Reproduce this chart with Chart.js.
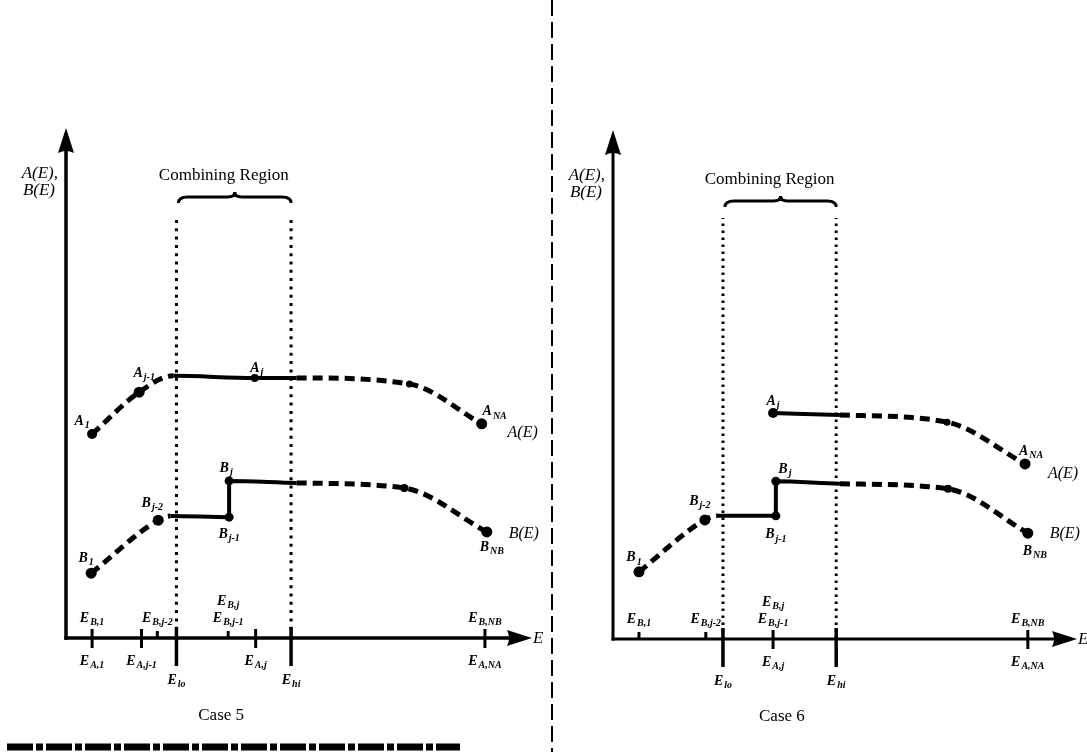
<!DOCTYPE html>
<html>
<head>
<meta charset="utf-8">
<title>Combining Region - Case 5 / Case 6</title>
<script src="https://cdn.jsdelivr.net/npm/chart.js@4.4.0/dist/chart.umd.min.js"></script>
<style>
  html, body { margin: 0; padding: 0; background: #fff; }
  #wrap { position: relative; width: 1087px; height: 756px; overflow: hidden; }
  .panel { position: absolute; top: 0; }
  #case5 { left: 0; }
  #case6 { left: 555px; }
</style>
</head>
<body>
<div id="wrap">
  <div class="panel" id="case5"><canvas id="chart5" width="555" height="756"></canvas></div>
  <div class="panel" id="case6"><canvas id="chart6" width="532" height="756"></canvas></div>
</div>
<script>
"use strict";

// ---------- Case 5 data (E on a 0-100 axis, A/B on a 0-100 axis) ----------
const c5EnergyA = [5.6, 15.7, 23.0, 40.5, 49.5, 73.7, 89.2];
const c5ValueA  = [40.0, 48.2, 51.4, 51.0, 51.0, 49.8, 42.0];
const c5SolidA  = [2, 3];          // segments (by start index) drawn solid
const c5LabelA  = ["A_1", "A_j-1", "", "A_j", "", "", "A_NA"];

const c5EnergyB = [5.4, 19.8, 22.4, 35.0, 35.0, 49.5, 72.6, 90.3];
const c5ValueB  = [12.7, 23.1, 23.9, 23.7, 30.8, 30.4, 29.4, 20.8];
const c5SolidB  = [2, 3, 4];
const c5LabelB  = ["B_1", "B_j-2", "", "B_j-1", "B_j", "", "", "B_NB"];

const c5TickE      = [5.6, 16.2, 19.6, 23.7, 34.8, 40.7, 48.3, 89.9];
const c5TickKind   = ["cross", "cross", "up", "long", "up", "cross", "long", "cross"];
const c5TickTop    = ["E_B,1", "", "E_B,j-2", "", "E_B,j|E_B,j-1", "", "", "E_B,NB"];
const c5TickBottom = ["E_A,1", "E_A,j-1", "", "E_lo", "", "E_A,j", "E_hi", "E_A,NA"];
const c5Region     = [23.7, 48.3];  // E_lo, E_hi

// ---------- Case 6 data ----------
const c6EnergyA = [34.5, 48.9, 72.0, 88.8];
const c6ValueA  = [44.4, 44.0, 42.6, 34.4];
const c6SolidA  = [0];
const c6LabelA  = ["A_j", "", "", "A_NA"];

const c6EnergyB = [5.6, 19.8, 22.4, 35.1, 35.1, 48.9, 72.2, 89.4];
const c6ValueB  = [13.2, 23.4, 24.2, 24.2, 31.0, 30.5, 29.5, 20.8];
const c6SolidB  = [2, 3, 4];
const c6LabelB  = ["B_1", "B_j-2", "", "B_j-1", "B_j", "", "", "B_NB"];

const c6TickE      = [5.6, 20.0, 23.7, 34.5, 48.1, 89.4];
const c6TickKind   = ["up", "up", "long", "cross", "long", "cross"];
const c6TickTop    = ["E_B,1", "E_B,j-2", "", "E_B,j|E_B,j-1", "", "E_B,NB"];
const c6TickBottom = ["", "", "E_lo", "E_A,j", "E_hi", "E_A,NA"];
const c6Region     = [23.7, 48.1];

// ---------- styling ----------
const INK = "#000";
const SERIF = '"Liberation Serif", "Times New Roman", serif';
const TICK_SHAPES = { cross: [9, 10, 3], up: [7, 0, 3], long: [11, 28, 3.5] };

const c5Radii   = { A: [5, 5.5, 0, 4, 0, 3.5, 5.5], B: [5.5, 5.5, 0, 4.5, 4.5, 0, 4, 5.5] };
const c6Radii   = { A: [5, 0, 3.5, 5.5], B: [5.5, 5.5, 0, 4.5, 4.5, 0, 4, 5.5] };
const c5Offsets = {
    A: [[-10, -14], [5, -20], null, [2, -11], null, null, [13, -13]],
    B: [[-5, -16], [-6, -18], null, [0, 16], [-3, -14], null, null, [5, 14]]
};
const c6Offsets = {
    A: [[0, -13], null, null, [6, -14]],
    B: [[-5, -15], [-5, -20], null, [0, 18], [9, -13], null, null, [7, 17]]
};

function drawSub(ctx, str, cx, cy, size) {
    const parts = str.split("_");
    const main = parts[0], sub = parts[1] || "";
    const mainFont = `bold italic ${size}px ${SERIF}`;
    const subFont = `bold italic ${Math.round(size * 0.68)}px ${SERIF}`;
    ctx.font = mainFont;
    const w1 = ctx.measureText(main).width;
    ctx.font = subFont;
    const w2 = sub ? ctx.measureText(sub).width + 1 : 0;
    const x0 = cx - (w1 + w2) / 2;
    const base = cy + size * 0.33;
    ctx.textAlign = "left";
    ctx.textBaseline = "alphabetic";
    ctx.font = mainFont;
    ctx.fillText(main, x0, base);
    if (sub) {
        ctx.font = subFont;
        ctx.fillText(sub, x0 + w1 + 1, base + size * 0.22);
    }
}

function curveDataset(energies, values, solid, radii, labels, offsets, name, nameOffset) {
    return {
        data: energies.map((e, i) => ({ x: e, y: values[i] })),
        borderColor: INK,
        backgroundColor: INK,
        borderWidth: 5,
        borderDash: [10, 6],
        pointRadius: radii,
        pointHoverRadius: radii,
        pointBorderWidth: 0,
        pointBackgroundColor: INK,
        cubicInterpolationMode: "monotone",
        segment: {
            borderDash: (ctx) => (solid.includes(ctx.p0DataIndex) ? [] : [10, 6]),
            borderWidth: (ctx) => (solid.includes(ctx.p0DataIndex) ? 4 : 5)
        },
        pointLabels: labels,
        labelOffsets: offsets,
        curveName: name,
        curveNameOffset: nameOffset
    };
}

function regionDataset(e, top, width, dash) {
    return {
        data: [{ x: e, y: 0 }, { x: e, y: top }],
        borderColor: INK,
        borderWidth: width,
        borderDash: dash,
        pointRadius: 0,
        tension: 0
    };
}

function makeSchematic(p) {
    return {
        id: "schematic",
        afterDraw(chart) {
            const { ctx, chartArea: area, scales: { x } } = chart;
            ctx.save();
            ctx.fillStyle = INK;
            ctx.strokeStyle = INK;
            ctx.lineCap = "butt";
            ctx.setLineDash([]);

            // axes with arrow heads
            ctx.lineWidth = p.axisWidth;
            ctx.beginPath();
            ctx.moveTo(area.left, area.bottom + p.axisWidth / 2);
            ctx.lineTo(area.left, area.top + 20);
            ctx.stroke();
            ctx.beginPath();
            ctx.moveTo(area.left, area.top);
            ctx.lineTo(area.left - 8, area.top + 25);
            ctx.quadraticCurveTo(area.left, area.top + 21, area.left + 8, area.top + 25);
            ctx.closePath();
            ctx.fill();

            ctx.beginPath();
            ctx.moveTo(area.left - p.axisWidth / 2, area.bottom);
            ctx.lineTo(area.right - 20, area.bottom);
            ctx.stroke();
            ctx.beginPath();
            ctx.moveTo(area.right, area.bottom);
            ctx.lineTo(area.right - 25, area.bottom - 8);
            ctx.quadraticCurveTo(area.right - 21, area.bottom, area.right - 25, area.bottom + 8);
            ctx.closePath();
            ctx.fill();

            ctx.font = `italic 17px ${SERIF}`;
            ctx.textAlign = "left";
            ctx.textBaseline = "middle";
            ctx.fillText("E", area.right + 1, area.bottom + 1);

            ctx.textAlign = "right";
            ctx.textBaseline = "alphabetic";
            ctx.font = `italic 17px ${SERIF}`;
            ctx.fillText("A(E),", area.left - 8, area.top + 50);
            ctx.fillText("B(E)", area.left - 11, area.top + 67);

            // ticks and their labels
            p.tickE.forEach((e, i) => {
                const px = x.getPixelForValue(e);
                const kind = p.tickKind[i];
                const [up, down, w] = TICK_SHAPES[kind];
                ctx.lineWidth = w;
                ctx.beginPath();
                ctx.moveTo(px, area.bottom - up);
                ctx.lineTo(px, area.bottom + down);
                ctx.stroke();
                if (p.tickTop[i]) {
                    const lines = p.tickTop[i].split("|");
                    lines.forEach((ln, k) => drawSub(ctx, ln, px, area.bottom - 21 - (lines.length - 1 - k) * 17, 14));
                }
                if (p.tickBottom[i]) {
                    drawSub(ctx, p.tickBottom[i], px, area.bottom + (kind === "long" ? 41 : 22), 14);
                }
            });

            // brace over the combining region
            const x1 = x.getPixelForValue(p.region[0]) + 2;
            const x2 = x.getPixelForValue(p.region[1]);
            const mid = (x1 + x2) / 2;
            const by = area.top + p.braceTop;
            ctx.lineWidth = 3;
            ctx.beginPath();
            ctx.moveTo(x1, by + 6);
            ctx.quadraticCurveTo(x1, by, x1 + 9, by);
            ctx.lineTo(mid - 7, by);
            ctx.quadraticCurveTo(mid, by, mid, by - 5);
            ctx.quadraticCurveTo(mid, by, mid + 7, by);
            ctx.lineTo(x2 - 9, by);
            ctx.quadraticCurveTo(x2, by, x2, by + 6);
            ctx.stroke();

            ctx.font = `17px ${SERIF}`;
            ctx.textAlign = "center";
            ctx.fillText("Combining Region", mid - 11, by - 17);

            ctx.font = `17px ${SERIF}`;
            ctx.fillText(p.caption, x.getPixelForValue(p.captionE), area.bottom + 82);

            // point labels and curve names
            chart.data.datasets.forEach((ds, di) => {
                if (!ds.pointLabels) return;
                const meta = chart.getDatasetMeta(di);
                ds.pointLabels.forEach((txt, i) => {
                    if (!txt) return;
                    const el = meta.data[i];
                    const off = ds.labelOffsets[i];
                    drawSub(ctx, txt, el.x + off[0], el.y + off[1], 14);
                });
                const last = meta.data[meta.data.length - 1];
                ctx.font = `italic 16px ${SERIF}`;
                ctx.textAlign = "center";
                ctx.textBaseline = "middle";
                ctx.fillText(ds.curveName, last.x + ds.curveNameOffset[0], last.y + ds.curveNameOffset[1]);
                ctx.textBaseline = "alphabetic";
            });

            if (p.divider) {
                ctx.lineWidth = 2;
                ctx.setLineDash([16, 6]);
                ctx.beginPath();
                ctx.moveTo(p.divider, 0);
                ctx.lineTo(p.divider, 752);
                ctx.stroke();
                // smudged print line along the bottom edge
                ctx.lineWidth = 7;
                ctx.setLineDash([26, 3, 7, 3]);
                ctx.beginPath();
                ctx.moveTo(7, 747);
                ctx.lineTo(460, 747);
                ctx.stroke();
            }
            ctx.restore();
        }
    };
}

function buildChart(canvasId, p, padding, datasets) {
    return new Chart(document.getElementById(canvasId).getContext("2d"), {
        type: "line",
        data: { datasets },
        options: {
            responsive: false,
            animation: false,
            events: [],
            layout: { padding },
            plugins: { legend: { display: false }, tooltip: { enabled: false } },
            scales: {
                x: { type: "linear", min: 0, max: 100, display: false },
                y: { type: "linear", min: 0, max: 100, display: false }
            }
        },
        plugins: [makeSchematic(p)]
    });
}

buildChart("chart5", {
    tickE: c5TickE, tickKind: c5TickKind, tickTop: c5TickTop, tickBottom: c5TickBottom,
    region: c5Region, braceTop: 69, caption: "Case 5", captionE: 33.3, axisWidth: 3.5, divider: 552
}, { left: 66, right: 23, top: 128, bottom: 118 }, [
    curveDataset(c5EnergyA, c5ValueA, c5SolidA, c5Radii.A, c5LabelA, c5Offsets.A, "A(E)", [41, 9]),
    curveDataset(c5EnergyB, c5ValueB, c5SolidB, c5Radii.B, c5LabelB, c5Offsets.B, "B(E)", [37, 2]),
    regionDataset(c5Region[0], 82.9, 3, [3, 5.3]),
    regionDataset(c5Region[1], 82.9, 3, [3, 5.3])
]);

buildChart("chart6", {
    tickE: c6TickE, tickKind: c6TickKind, tickTop: c6TickTop, tickBottom: c6TickBottom,
    region: c6Region, braceTop: 71, caption: "Case 6", captionE: 36.4, axisWidth: 3, divider: 0
}, { left: 58, right: 10, top: 130, bottom: 117 }, [
    curveDataset(c6EnergyA, c6ValueA, c6SolidA, c6Radii.A, c6LabelA, c6Offsets.A, "A(E)", [38, 10]),
    curveDataset(c6EnergyB, c6ValueB, c6SolidB, c6Radii.B, c6LabelB, c6Offsets.B, "B(E)", [37, 1]),
    regionDataset(c6Region[0], 82.7, 3, [2.5, 4.5]),
    regionDataset(c6Region[1], 82.7, 3, [2.5, 4.5])
]);
</script>
</body>
</html>
